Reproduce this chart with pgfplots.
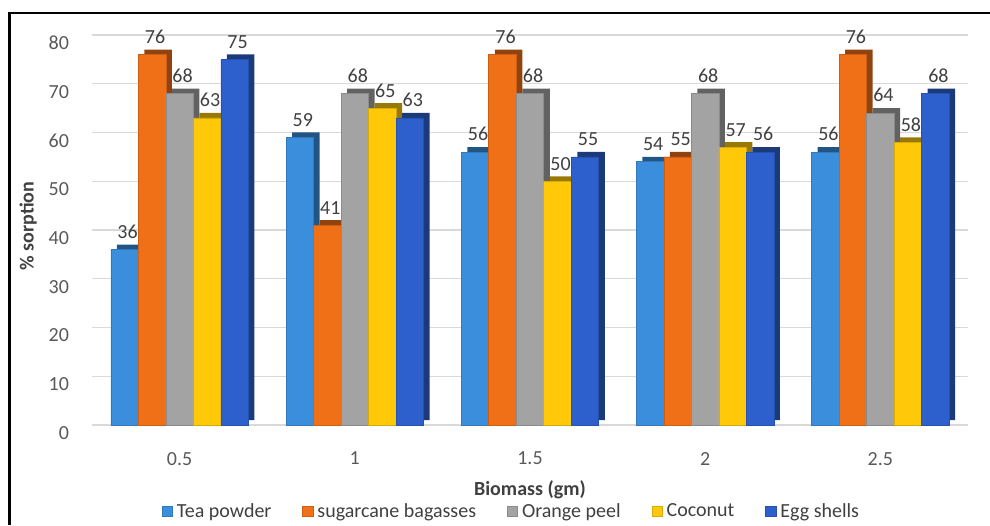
\documentclass[border=0pt]{standalone}
\usepackage{pgfplots}
\pgfplotsset{compat=1.18}
\usepackage{pgfplotstable}
\usepackage{fontspec}
\setmainfont{Carlito}
\definecolor{cTea}{HTML}{3A8EDC}
\definecolor{cSug}{HTML}{F07018}
\definecolor{cOra}{HTML}{A3A3A3}
\definecolor{cCoc}{HTML}{FFC90A}
\definecolor{cEgg}{HTML}{2D60CC}
\definecolor{txt}{HTML}{595959}
\definecolor{lab}{HTML}{404040}
\pgfplotstableread{
x tea sug ora coc egg
0 36 76 68 63 75
1 59 41 68 65 63
2 56 76 68 50 55
3 54 55 68 57 56
4 56 76 64 58 68
}\datatable
\begin{document}
\begin{tikzpicture}[font=\fontsize{10}{12}\selectfont]
\useasboundingbox (0,0) rectangle (495pt,262.5pt);
\begin{axis}[
  at={(46pt,50pt)}, anchor=south west,
  width=438pt, height=195pt, scale only axis,
  xmin=-0.5, xmax=4.5, ymin=0, ymax=80,
  xtick={0,1,2,3,4}, xticklabels={0.5,1,1.5,2,2.5},
  ytick={0,10,...,80},
  ymajorgrids, grid style={draw=black!15, line width=0.6pt},
  axis line style={draw=none},
  major tick length=0pt,
  tick label style={text=txt, font=\fontsize{10}{12}\selectfont},
  /pgf/number format/assume math mode=true,
  yticklabel style={yshift=-4pt, xshift=-8pt},
  xticklabel style={yshift=-10pt},
  xlabel={\textbf{Biomass (gm)}},
  xlabel style={at={(0.5,-0.165)}, anchor=center, text=lab},
  ylabel={\textbf{\% sorption}},
  ylabel style={at={(-0.073,0.51)}, anchor=center, text=lab},
  legend columns=5,
  legend style={draw=none, fill=none, at={(0.48,-0.222)}, anchor=center,
    inner ysep=1pt,
    /tikz/every even column/.append style={column sep=13.5pt},
    font=\fontsize{10}{12}\selectfont, text=lab},
  legend image code/.code={\fill[#1] (0pt,-2.6pt) rectangle (5.2pt,2.6pt);},
  every node near coord/.append style={text=lab, font=\fontsize{10}{12}\selectfont, yshift=2pt},
]
% 1 Tea powder
\addplot[ybar, bar width=13.75pt, bar shift=-24.5pt, fill=cTea!60!black, draw=none, yshift=2.5pt, forget plot] table[x=x,y=tea]{\datatable};
\addplot[ybar, bar width=13.75pt, bar shift=-27.5pt, fill=cTea, draw=cTea!85!black, line width=0.3pt, nodes near coords, every node near coord/.append style={xshift=-26pt}] table[x=x,y=tea]{\datatable};
\addlegendentry{Tea powder}
% 2 sugarcane
\addplot[ybar, bar width=13.75pt, bar shift=-10.75pt, fill=cSug!60!black, draw=none, yshift=2.5pt, forget plot] table[x=x,y=sug]{\datatable};
\addplot[ybar, bar width=13.75pt, bar shift=-13.75pt, fill=cSug, draw=cSug!85!black, line width=0.3pt, nodes near coords, every node near coord/.append style={xshift=-12.25pt}] table[x=x,y=sug]{\datatable};
\addlegendentry{sugarcane bagasses}
% 3 orange peel
\addplot[ybar, bar width=13.75pt, bar shift=3pt, fill=cOra!60!black, draw=none, yshift=2.5pt, forget plot] table[x=x,y=ora]{\datatable};
\addplot[ybar, bar width=13.75pt, bar shift=0pt, fill=cOra, draw=cOra!85!black, line width=0.3pt, nodes near coords, every node near coord/.append style={xshift=1.5pt}] table[x=x,y=ora]{\datatable};
\addlegendentry{Orange peel}
% 4 coconut
\addplot[ybar, bar width=13.75pt, bar shift=16.75pt, fill=cCoc!60!black, draw=none, yshift=2.5pt, forget plot] table[x=x,y=coc]{\datatable};
\addplot[ybar, bar width=13.75pt, bar shift=13.75pt, fill=cCoc, draw=cCoc!85!black, line width=0.3pt, nodes near coords, every node near coord/.append style={xshift=15.25pt}] table[x=x,y=coc]{\datatable};
\addlegendentry{Coconut}
% 5 egg shells
\addplot[ybar, bar width=13.75pt, bar shift=30.5pt, fill=cEgg!60!black, draw=none, yshift=2.5pt, forget plot] table[x=x,y=egg]{\datatable};
\addplot[ybar, bar width=13.75pt, bar shift=27.5pt, fill=cEgg, draw=cEgg!85!black, line width=0.3pt, nodes near coords, every node near coord/.append style={xshift=29pt}] table[x=x,y=egg]{\datatable};
\addlegendentry{Egg shells}
\end{axis}
\draw[line width=1.4pt] (4.8pt,0) -- (4.8pt,256pt) -- (495pt,256pt);
\end{tikzpicture}
\end{document}
